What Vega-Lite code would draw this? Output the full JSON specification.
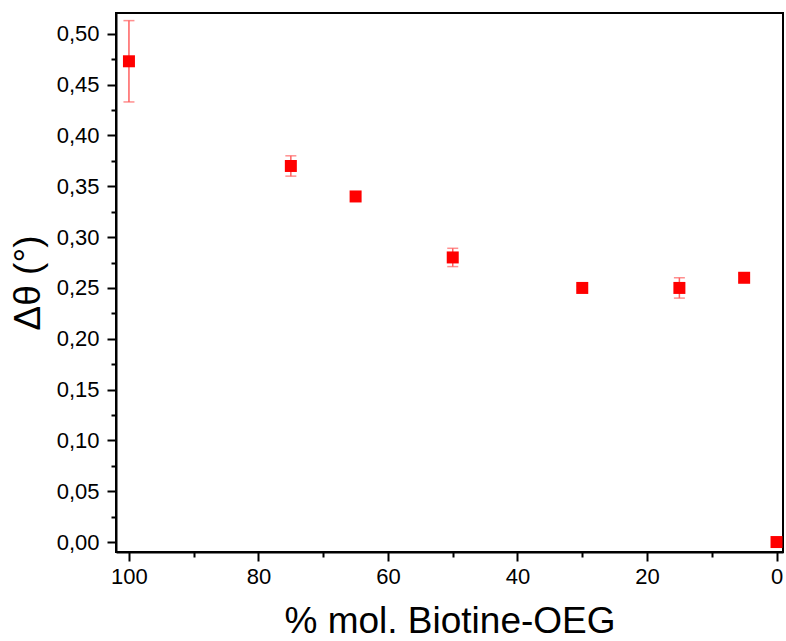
{
  "$schema": "https://vega.github.io/schema/vega-lite/v6.json",
  "width": 667,
  "height": 539,
  "autosize": {"type": "none"},
  "padding": {"left": 116, "top": 13, "right": 3, "bottom": 89},
  "background": "white",
  "config": {
    "locale": {"number": {"decimal": ",", "thousands": ".", "grouping": [3], "currency": ["", " €"]}},
    "view": {"stroke": "black", "strokeWidth": 2},
    "font": "Liberation Sans",
    "axis": {
      "grid": false,
      "domainColor": "black",
      "domainWidth": 2,
      "tickColor": "black",
      "tickWidth": 2,
      "labelFont": "Liberation Sans",
      "labelFontSize": 22,
      "labelColor": "black",
      "titleFont": "Liberation Sans",
      "titleFontSize": 37,
      "titleFontWeight": "normal",
      "titleColor": "black"
    }
  },
  "data": {
    "values": [
      {"pct": 100, "dtheta": 0.473, "lo": 0.433, "hi": 0.513},
      {"pct": 75, "dtheta": 0.370, "lo": 0.360, "hi": 0.380},
      {"pct": 65, "dtheta": 0.340, "lo": 0.336, "hi": 0.344},
      {"pct": 50, "dtheta": 0.280, "lo": 0.271, "hi": 0.289},
      {"pct": 30, "dtheta": 0.250, "lo": 0.248, "hi": 0.252},
      {"pct": 15, "dtheta": 0.250, "lo": 0.240, "hi": 0.260},
      {"pct": 5, "dtheta": 0.260, "lo": 0.256, "hi": 0.264},
      {"pct": 0, "dtheta": 0.000, "lo": 0.000, "hi": 0.000}
    ]
  },
  "resolve": {"axis": {"x": "independent", "y": "independent"}},
  "layer": [
    {
      "mark": {"type": "errorbar", "ticks": {"size": 11, "thickness": 1.5, "color": "#ff6060"}, "rule": {"strokeWidth": 1.5, "color": "#ff6060"}},
      "encoding": {
        "x": {
          "field": "pct", "type": "quantitative",
          "scale": {"domain": [-1, 102], "reverse": true, "nice": false, "zero": false},
          "axis": {"orient": "bottom", "values": [0, 20, 40, 60, 80, 100], "tickSize": 9, "labelPadding": 5, "title": "% mol. Biotine-OEG", "titlePadding": 16, "format": "d"}
        },
        "y": {
          "field": "lo", "type": "quantitative",
          "scale": {"domain": [-0.0098, 0.5205], "nice": false, "zero": false},
          "axis": {"orient": "left", "values": [0, 0.05, 0.1, 0.15, 0.2, 0.25, 0.3, 0.35, 0.4, 0.45, 0.5], "format": ".2f", "tickSize": 9, "labelPadding": 8, "title": "Δθ (°)", "titlePadding": 9}
        },
        "y2": {"field": "hi"}
      }
    },
    {
      "mark": {"type": "point", "shape": "square", "filled": true, "size": 144, "color": "#ff0000", "opacity": 1},
      "encoding": {
        "x": {
          "field": "pct", "type": "quantitative",
          "axis": {"orient": "bottom", "values": [10, 30, 50, 70, 90], "tickSize": 5, "labels": false, "domain": false, "title": null}
        },
        "y": {
          "field": "dtheta", "type": "quantitative",
          "axis": {"orient": "left", "values": [0.025, 0.075, 0.125, 0.175, 0.225, 0.275, 0.325, 0.375, 0.425, 0.475], "tickSize": 5, "labels": false, "domain": false, "title": null}
        }
      }
    }
  ]
}
